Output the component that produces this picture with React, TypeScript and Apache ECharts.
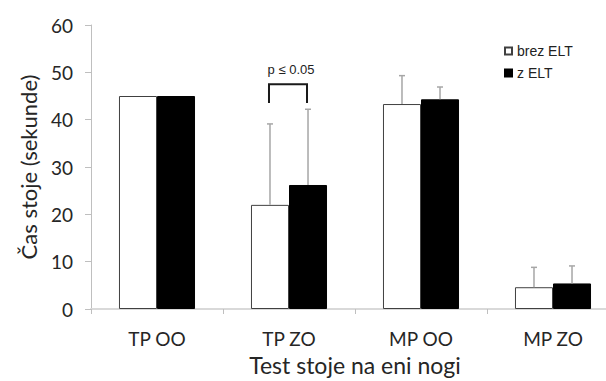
import React, { useEffect, useRef } from "react";
import * as echarts from "echarts";

const categories = ["TP OO", "TP ZO", "MP OO", "MP ZO"];
const seriesNames = ["brez ELT", "z ELT"];
const brezELT = [45, 22.0, 43.3, 4.6];
const zELT = [45, 26.2, 44.3, 5.4];
const brezELTErrTop = [45, 39.1, 49.3, 8.8];
const zELTErrTop = [45, 42.2, 46.9, 9.1];
const yTicks = [0, 10, 20, 30, 40, 50, 60];
const bracketCategory = 1;
const bracketTop = 47.5;
const bracketBottom = 43.5;
const bracketLabel = "p ≤ 0.05";

const FONT = "Lato, 'Open Sans', sans-serif";
const ARIAL = "'Liberation Sans', Arial, sans-serif";
const GAP_FRAC = 0.424;

export default function App() {
  const ref = useRef<HTMLDivElement>(null);
  useEffect(() => {
    document.body.style.margin = "0";
    if (!ref.current) return;
    const chart = echarts.init(ref.current, undefined, { renderer: "svg" });

    const errData: number[][] = [];
    categories.forEach((_, i) => {
      errData.push([i, 0, brezELT[i], brezELTErrTop[i]]);
      errData.push([i, 1, zELT[i], zELTErrTop[i]]);
    });

    const errRender = (params: any, api: any) => {
      const ci = api.value(0);
      const si = api.value(1);
      const base = api.value(2);
      const top = api.value(3);
      if (top <= base) return null;
      const band = api.size([1, 0])[0];
      const barW = (band * (1 - GAP_FRAC)) / 2;
      const c = api.coord([ci, base]);
      const x = c[0] + (si === 0 ? -barW / 2 : barW / 2);
      const yb = c[1];
      const yt = api.coord([ci, top])[1];
      const style = { stroke: "#a6a6a6", lineWidth: 1.5 };
      return {
        type: "group",
        children: [
          { type: "line", shape: { x1: x, y1: yb, x2: x, y2: yt }, style },
          { type: "line", shape: { x1: x - 3, y1: yt, x2: x + 3, y2: yt }, style },
        ],
      };
    };

    const bracketRender = (params: any, api: any) => {
      const ci = api.value(0);
      const band = api.size([1, 0])[0];
      const barW = (band * (1 - GAP_FRAC)) / 2;
      const pt = api.coord([ci, api.value(1)]);
      const pb = api.coord([ci, api.value(2)]);
      const x1 = pt[0] - barW / 2 - 1;
      const x2 = pt[0] + barW / 2 - 1;
      return {
        type: "group",
        children: [
          {
            type: "polyline",
            shape: { points: [[x1, pb[1]], [x1, pt[1]], [x2, pt[1]], [x2, pb[1]]] },
            style: { stroke: "#1a1a1a", lineWidth: 2, fill: "none" },
          },
          {
            type: "text",
            x: pt[0] + 2,
            y: pt[1] - 8,
            style: {
              text: bracketLabel,
              fill: "#222",
              font: "13px " + ARIAL,
              textAlign: "center",
              textVerticalAlign: "bottom",
            },
          },
        ],
      };
    };

    chart.setOption({
      animation: false,
      backgroundColor: "#fff",
      grid: { left: 91, width: 528, top: 25, height: 287, containLabel: false },
      legend: {
        orient: "vertical",
        left: 499,
        top: 39,
        itemWidth: 7,
        itemHeight: 7,
        itemGap: 8,
        icon: "rect",
        data: seriesNames,
        textStyle: { fontFamily: ARIAL, fontSize: 14, color: "#222" },
      },
      xAxis: {
        type: "category",
        data: categories,
        name: "Test stoje na eni nogi",
        nameLocation: "middle",
        nameGap: 44,
        nameTextStyle: { fontFamily: FONT, fontSize: 23, color: "#262626" },
        axisLine: { lineStyle: { color: "#d9d9d9", width: 2 } },
        axisTick: { show: true, length: 5, lineStyle: { color: "#bfbfbf" } },
        axisLabel: { margin: 20, fontFamily: FONT, fontSize: 19, color: "#262626" },
      },
      yAxis: {
        type: "value",
        min: yTicks[0],
        max: yTicks[yTicks.length - 1],
        interval: 10,
        name: "Čas stoje (sekunde)",
        nameLocation: "middle",
        nameRotate: 90,
        nameGap: 52,
        nameTextStyle: { fontFamily: FONT, fontSize: 22, color: "#262626" },
        splitLine: { show: false },
        axisLine: { show: true, lineStyle: { color: "#bfbfbf", width: 1 } },
        axisTick: { show: true, length: 6, lineStyle: { color: "#bfbfbf" } },
        axisLabel: { margin: 18, fontFamily: FONT, fontSize: 19, color: "#262626" },
      },
      series: [
        {
          name: seriesNames[0],
          type: "bar",
          data: brezELT,
          barGap: "0%",
          barCategoryGap: "42.4%",
          itemStyle: { color: "#ffffff", borderColor: "#404040", borderWidth: 1 },
        },
        {
          name: seriesNames[1],
          type: "bar",
          data: zELT,
          barGap: "0%",
          barCategoryGap: "42.4%",
          itemStyle: { color: "#000000", borderColor: "#000000", borderWidth: 1 },
        },
        {
          type: "custom",
          renderItem: errRender,
          data: errData,
          z: 5,
          silent: true,
        },
        {
          type: "custom",
          renderItem: bracketRender,
          data: [[bracketCategory, bracketTop, bracketBottom]],
          z: 6,
          silent: true,
        },
      ],
    });
    return () => chart.dispose();
  }, []);
  return (
    <div style={{ width: 606, height: 381, overflow: "hidden", position: "relative" }}>
      <div ref={ref} style={{ width: 619, height: 381 }} />
    </div>
  );
}
